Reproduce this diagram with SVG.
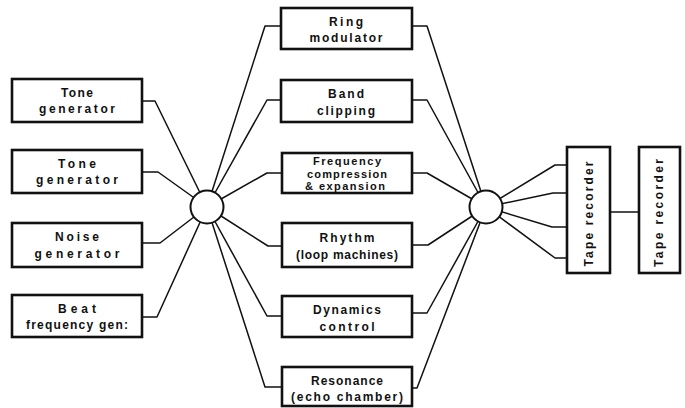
<svg xmlns="http://www.w3.org/2000/svg" width="685" height="408" viewBox="0 0 685 408">
<style>
.box{fill:#fff;stroke:#111;stroke-width:2.6}
.hub{fill:#fff;stroke:#111;stroke-width:2}
.c{fill:none;stroke:#111;stroke-width:1.5;stroke-linejoin:round}
text{font-family:"Liberation Sans","DejaVu Sans",sans-serif;font-size:12px;fill:#111;text-anchor:middle;font-weight:bold}
.s{font-size:11px}
</style>
<rect width="685" height="408" fill="#fff"/>
<g id="connectors">
<polyline class="c" points="142,101 155,101 207,207"/>
<polyline class="c" points="142,172 158,172 207,207"/>
<polyline class="c" points="142,243 160,243 207,207"/>
<polyline class="c" points="142,317 157,317 207,207"/>
<polyline class="c" points="281,26 265,26 207,207"/>
<polyline class="c" points="281,100 267,100 207,207"/>
<polyline class="c" points="281,173 267,173 207,207"/>
<polyline class="c" points="281,246 268,246 207,207"/>
<polyline class="c" points="281,316 267,316 207,207"/>
<polyline class="c" points="281,387 265,387 207,207"/>
<polyline class="c" points="412,26 427,26 486,207"/>
<polyline class="c" points="412,100 427,100 486,207"/>
<polyline class="c" points="412,173 427,173 486,207"/>
<polyline class="c" points="412,245 428,245 486,207"/>
<polyline class="c" points="412,313 427,313 486,207"/>
<polyline class="c" points="412,388 417,388 486,207"/>
<polyline class="c" points="486,207 555,165 567,165"/>
<polyline class="c" points="486,207 553,193 567,193"/>
<polyline class="c" points="486,207 552,227 567,227"/>
<polyline class="c" points="486,207 555,258 567,258"/>
<polyline class="c" points="610,212 639,212"/>
</g>
<g id="hub1"><circle class="hub" cx="207" cy="207" r="16.5"/></g>
<g id="hub2"><circle class="hub" cx="486" cy="207" r="16.5"/></g>
<g id="tone1"><rect class="box" x="12" y="79" width="130" height="43"/><text x="77" y="97" textLength="32">Tone</text><text x="77" y="113" textLength="76">generator</text></g>
<g id="tone2"><rect class="box" x="12" y="150" width="130" height="43"/><text x="77" y="168" textLength="38">Tone</text><text x="77" y="184" textLength="82">generator</text></g>
<g id="noise"><rect class="box" x="12" y="223" width="130" height="44"/><text x="77" y="241" textLength="44">Noise</text><text x="77" y="258" textLength="85">generator</text></g>
<g id="beat"><rect class="box" x="12" y="295" width="130" height="42"/><text x="77" y="313" textLength="38">Beat</text><text x="77" y="329" textLength="102">frequency gen:</text></g>
<g id="ring"><rect class="box" x="281" y="8" width="131" height="41"/><text x="346" y="26" textLength="34">Ring</text><text x="346" y="42" textLength="73">modulator</text></g>
<g id="band"><rect class="box" x="281" y="80" width="131" height="42"/><text x="346" y="98" textLength="36">Band</text><text x="346" y="115" textLength="58">clipping</text></g>
<g id="freq"><rect class="box" x="282" y="153" width="130" height="40"/><text class="s" x="347" y="165" textLength="68">Frequency</text><text class="s" x="347" y="178" textLength="80">compression</text><text class="s" x="345" y="190" textLength="80">&amp; expansion</text></g>
<g id="rhythm"><rect class="box" x="282" y="223" width="130" height="44"/><text x="347" y="242" textLength="55">Rhythm</text><text x="347" y="259" textLength="102">(loop machines)</text></g>
<g id="dynamics"><rect class="box" x="282" y="296" width="130" height="41"/><text x="347" y="314" textLength="68">Dynamics</text><text x="347" y="331" textLength="55">control</text></g>
<g id="resonance"><rect class="box" x="282" y="367" width="130" height="39"/><text x="347" y="385" textLength="72">Resonance</text><text x="347" y="401" textLength="112">(echo chamber)</text></g>
<g id="tape1"><rect class="box" x="567" y="147" width="43" height="126"/><text transform="translate(593,214) rotate(-90)" textLength="105">Tape recorder</text></g>
<g id="tape2"><rect class="box" x="639" y="147" width="41" height="126"/><text transform="translate(663,213) rotate(-90)" textLength="108">Tape recorder</text></g>
</svg>
